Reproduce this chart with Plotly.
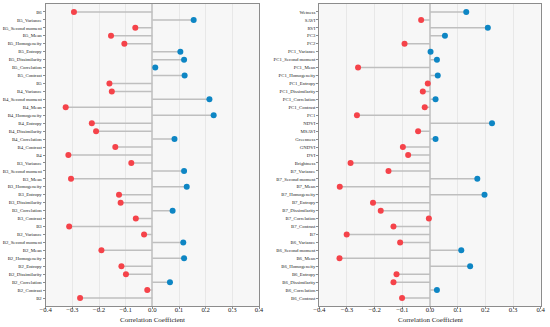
import plotly.graph_objects as go

left_labels = ["B6", "B5_Variance", "B5_Second moment", "B5_Mean", "B5_Homogeneity", "B5_Entropy",
               "B5_Dissimilarity", "B5_Correlation", "B5_Contrast", "B5", "B4_Variance",
               "B4_Second moment", "B4_Mean", "B4_Homogeneity", "B4_Entropy", "B4_Dissimilarity",
               "B4_Correlation", "B4_Contrast", "B4", "B3_Variance", "B3_Second moment", "B3_Mean",
               "B3_Homogeneity", "B3_Entropy", "B3_Dissimilarity", "B3_Correlation", "B3_Contrast",
               "B3", "B2_Variance", "B2_Second moment", "B2_Mean", "B2_Homogeneity", "B2_Entropy",
               "B2_Dissimilarity", "B2_Correlation", "B2_Contrast", "B2"]
left_values = [-0.294, 0.155, -0.064, -0.155, -0.105, 0.105, 0.119, 0.011, 0.121, -0.161, -0.152,
               0.214, -0.325, 0.230, -0.227, -0.211, 0.083, -0.139, -0.315, -0.079, 0.119, -0.305,
               0.129, -0.125, -0.119, 0.076, -0.062, -0.312, -0.031, 0.116, -0.191, 0.119, -0.116,
               -0.099, 0.066, -0.019, -0.271]

right_labels = ["Wetness", "SAVI", "RVI", "PC3", "PC2", "PC1_Variance", "PC1_Second moment", "PC1_Mean",
                "PC1_Homogeneity", "PC1_Entropy", "PC1_Dissimilarity", "PC1_Correlation", "PC1_Contrast",
                "PC1", "NDVI", "MSAVI", "Greenness", "GNDVI", "DVI", "Brightness", "B7_Variance",
                "B7_Second moment", "B7_Mean", "B7_Homogeneity", "B7_Entropy", "B7_Dissimilarity",
                "B7_Correlation", "B7_Contrast", "B7", "B6_Variance", "B6_Second moment", "B6_Mean",
                "B6_Homogeneity", "B6_Entropy", "B6_Dissimilarity", "B6_Correlation", "B6_Contrast"]
right_values = [0.131, -0.032, 0.209, 0.054, -0.092, 0.002, 0.025, -0.260, 0.028, -0.008, -0.026,
                0.020, -0.019, -0.264, 0.224, -0.043, 0.020, -0.098, -0.079, -0.287, -0.150, 0.171,
                -0.326, 0.197, -0.206, -0.178, -0.004, -0.132, -0.301, -0.108, 0.113, -0.327, 0.145,
                -0.121, -0.132, 0.025, -0.101]

x_ticks = [-0.4, -0.3, -0.2, -0.1, 0.0, 0.1, 0.2, 0.3, 0.4]
x_title = "Correlation Coefficient"

RED = "#f5434a"
BLUE = "#0e86c4"
STEM = "#bfbfbf"
FONT = "Liberation Serif"

fig = go.Figure()


def add_panel(labels, values, xa, ya):
    sx, sy = [], []
    for lab, v in zip(labels, values):
        sx += [0, v, None]
        sy += [lab, lab, None]
    fig.add_trace(go.Scatter(x=sx, y=sy, mode="lines", line=dict(color=STEM, width=1.5),
                             xaxis=xa, yaxis=ya, showlegend=False, hoverinfo="skip"))
    fig.add_trace(go.Scatter(x=values, y=labels, mode="markers",
                             marker=dict(size=6, color=[RED if v < 0 else BLUE for v in values],
                                         line=dict(width=0)),
                             xaxis=xa, yaxis=ya, showlegend=False))


add_panel(left_labels, left_values, "x", "y")
add_panel(right_labels, right_values, "x2", "y2")

W, H = 550, 327
ydom = [1 - 306 / H, 1 - 4 / H]
xdom1 = [45.7 / W, 259 / W]
xdom2 = [319.3 / W, 540.7 / W]

xcommon = dict(range=[-0.4, 0.4], tickmode="array", tickvals=x_ticks, tickformat=".1f", showgrid=True,
               gridcolor="#e8e8e8", gridwidth=1, zeroline=True, zerolinecolor="#cccccc",
               zerolinewidth=1.5, showline=True, linecolor="#8c8c8c", linewidth=1, mirror=True,
               ticks="outside", ticklen=2, tickcolor="#8c8c8c", automargin=False,
               ticklabelstandoff=-5,
               tickfont=dict(family=FONT, size=6.8, color="#222"))
ycommon = dict(type="category", range=[37, -1], showgrid=False, zeroline=False, showline=True,
               linecolor="#8c8c8c", linewidth=1, mirror=True, ticks="outside", ticklen=2,
               tickcolor="#8c8c8c", tickfont=dict(family=FONT, size=4.8, color="#222"),
               tickmode="array", domain=ydom, automargin=False)

fig.update_layout(
    width=W, height=H,
    margin=dict(l=0, r=0, t=0, b=0),
    paper_bgcolor="white",
    plot_bgcolor="#f7f7f7",
    hovermode=False,
    xaxis=dict(domain=xdom1, anchor="y", **xcommon),
    xaxis2=dict(domain=xdom2, anchor="y2", **xcommon),
    yaxis=dict(anchor="x", categoryorder="array", categoryarray=left_labels, tickvals=left_labels,
               **ycommon),
    yaxis2=dict(anchor="x2", categoryorder="array", categoryarray=right_labels, tickvals=right_labels,
                **ycommon),
)

for dom in (xdom1, xdom2):
    fig.add_annotation(text=x_title, xref="paper", yref="paper", x=(dom[0] + dom[1]) / 2,
                       y=1 - 320 / H, xanchor="center", yanchor="middle", showarrow=False,
                       font=dict(family=FONT, size=7, color="#222"))

fig.write_html("out.html", config={"displayModeBar": False},
               post_script="document.body.style.margin='0';")
